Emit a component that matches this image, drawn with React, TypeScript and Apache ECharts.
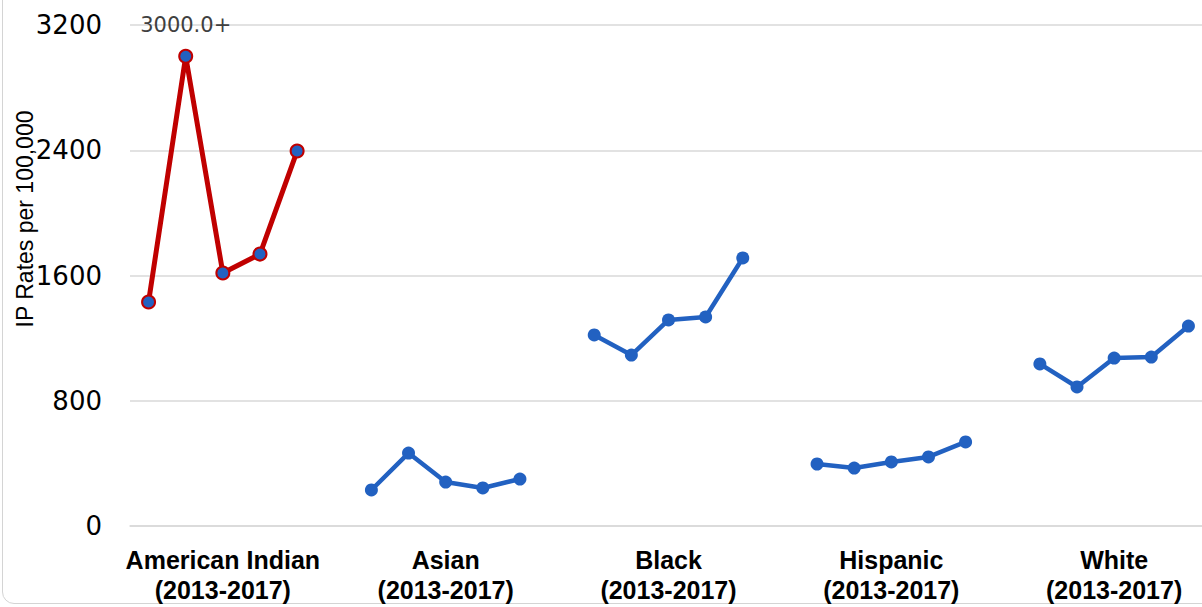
import React, { useEffect, useRef } from "react";
import * as echarts from "echarts";

const groups = ["American Indian", "Asian", "Black", "Hispanic", "White"];
const years = ["2013", "2014", "2015", "2016", "2017"];
const periodLabel = "(2013-2017)";
const americanIndian = [1431, 3000, 1616, 1737, 2395];
const asian = [230, 466, 281, 243, 300];
const black = [1220, 1092, 1316, 1335, 1712];
const hispanic = [396, 370, 409, 441, 537];
const white = [1035, 888, 1073, 1079, 1277];
const groupValues = [americanIndian, asian, black, hispanic, white];
const yTicks = [0, 800, 1600, 2400, 3200];
const cappedLabel = "3000.0+";
const yTitle = "IP Rates per 100,000";

const BLUE = "#2261c1";
const RED = "#c00000";

export default function App() {
  const ref = useRef<HTMLDivElement>(null);
  useEffect(() => {
    if (!ref.current) return;
    const chart = echarts.init(ref.current, null, { renderer: "svg" });
    const cats: string[] = [];
    const middleIdx: Record<number, string> = {};
    groups.forEach((g, gi) => {
      years.forEach((y, yi) => {
        if (yi === 2) middleIdx[cats.length] = g;
        cats.push(g + " " + y);
      });
      if (gi < groups.length - 1) cats.push("gap" + gi);
    });
    const series = groups.map((g, gi) => {
      const data: any[] = cats.map(() => null);
      groupValues[gi].forEach((v, yi) => {
        const idx = gi * (years.length + 1) + yi;
        if (gi === 0 && yi === 1) {
          data[idx] = {
            value: v,
            label: {
              show: true,
              position: "top",
              distance: 13,
              formatter: cappedLabel,
              color: "#404040",
              fontSize: 21,
              fontFamily: "DejaVu Sans",
            },
          };
        } else data[idx] = v;
      });
      const isRed = gi === 0;
      return {
        type: "line",
        name: g,
        data,
        connectNulls: false,
        symbol: "circle",
        symbolSize: 13,
        lineStyle: { color: isRed ? RED : BLUE, width: isRed ? 5 : 4.5 },
        itemStyle: isRed
          ? { color: BLUE, borderColor: RED, borderWidth: 2 }
          : { color: BLUE, borderColor: BLUE, borderWidth: 0 },
        emphasis: { disabled: true },
      };
    });
    chart.setOption({
      animation: false,
      grid: { left: 130, right: 0, top: 25, bottom: 81, containLabel: false },
      xAxis: {
        type: "category",
        data: cats,
        boundaryGap: true,
        axisLine: { show: true, lineStyle: { color: "#d9d9d9", width: 1.5 } },
        axisTick: { show: false },
        axisLabel: {
          interval: 0,
          margin: 19,
          formatter: (val: string, idx: number) =>
            middleIdx[idx] ? "{a|" + middleIdx[idx] + "}\n{a|" + periodLabel + "}" : "",
          rich: {
            a: { fontSize: 25, fontWeight: "bold", color: "#000", lineHeight: 30, fontFamily: "Liberation Sans" },
          },
        },
      },
      yAxis: {
        type: "value",
        min: yTicks[0],
        max: yTicks[yTicks.length - 1],
        interval: yTicks[1] - yTicks[0],
        axisLine: { show: false },
        axisTick: { show: false },
        splitLine: { lineStyle: { color: "#d9d9d9", width: 1.5 } },
        axisLabel: {
          margin: 28,
          fontSize: 26,
          color: "#000",
          fontFamily: "DejaVu Sans",
          formatter: (v: number) => String(v),
        },
      },
      graphic: [
        {
          type: "text",
          x: 25,
          y: 219,
          rotation: Math.PI / 2,
          style: {
            text: yTitle,
            fontSize: 23,
            fontFamily: "Liberation Sans",
            fill: "#000",
            align: "center",
            verticalAlign: "middle",
          },
        },
      ],
      series,
    });
    return () => chart.dispose();
  }, []);
  return (
    <div style={{ position: "fixed", left: 0, top: 0, width: 1202, height: 607, overflow: "hidden", background: "#fff" }}>
      <div
        style={{
          position: "absolute",
          left: 2,
          top: -30,
          width: 1240,
          height: 634,
          border: "1.5px solid #d4d4d4",
          borderRadius: 12,
          boxSizing: "border-box",
        }}
      />
      <div ref={ref} style={{ position: "absolute", left: 0, top: 0, width: 1207, height: 607 }} />
    </div>
  );
}
